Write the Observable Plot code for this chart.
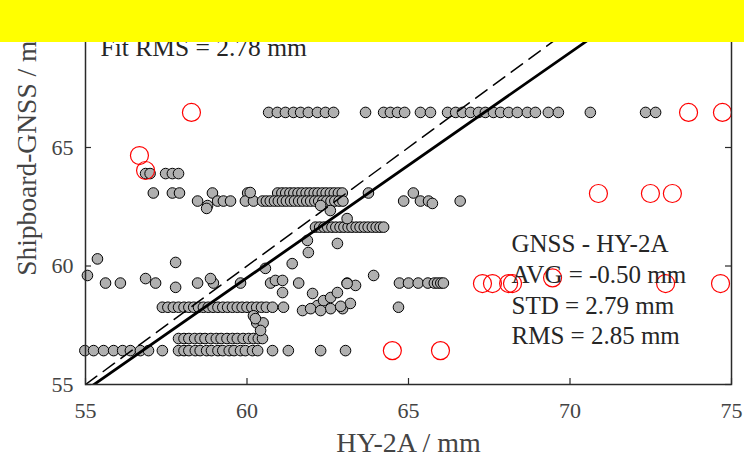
<!DOCTYPE html>
<html><head><meta charset="utf-8">
<script src="https://cdn.jsdelivr.net/npm/d3@7"></script>
<script src="https://cdn.jsdelivr.net/npm/@observablehq/plot@0.6"></script>
<style>
html,body{margin:0;padding:0;background:#fff;}
#wrap{position:relative;width:744px;height:457px;overflow:hidden;background:#fff;}
#chart{position:absolute;left:0;top:-100px;}
#banner{position:absolute;left:0;top:0;width:744px;height:42px;background:#ffff00;z-index:2;}
</style></head>
<body><div id="wrap"><div id="chart"></div><div id="banner"></div></div>
<script>
// ---- data (HY-2A vs Shipboard-GNSS, mm) ----
const xTicks = [55, 60, 65, 70, 75];
const yTicks = [55, 60, 65, 70, 75];

// GNSS values that repeat along horizontal rows, with the HY-2A values on each row
const levelGNSS = [66.48, 63.9, 63.08, 62.74, 61.64, 59.28, 58.26, 56.94, 56.43];
const levelHY = [
  [60.67, 60.94, 61.19, 61.44, 61.66, 61.90, 62.18, 62.43, 62.68, 63.67, 64.23, 64.44, 64.66, 64.88, 65.37, 65.68, 66.21, 66.46, 66.67, 66.92, 67.17, 67.38, 67.63, 67.85, 68.10, 68.37, 68.68, 68.93, 69.33, 69.64, 70.63, 72.34, 72.65],
  [56.86, 57.0, 57.48, 57.69, 57.88],
  [57.10, 57.69, 57.91, 58.93, 60.02, 60.95, 61.08, 61.2, 61.33, 61.45, 61.58, 61.7, 61.83, 61.95, 62.08, 62.2, 62.33, 62.45, 62.58, 62.7, 62.83, 62.95, 63.76, 65.15],
  [58.47, 59.09, 59.27, 59.49, 59.95, 60.2, 60.48, 60.6, 60.72, 60.85, 60.97, 61.1, 61.22, 61.35, 61.47, 61.6, 61.72, 61.85, 61.97, 62.1, 62.22, 62.35, 62.47, 62.6, 62.72, 62.85, 62.97, 64.85, 65.37, 65.62, 66.6],
  [62.12, 62.25, 62.38, 62.5, 62.63, 62.75, 62.88, 63.0, 63.13, 63.25, 63.38, 63.5, 63.63, 63.75, 63.88, 64.0, 64.12, 64.23],
  [55.62, 56.08, 57.17, 58.47, 58.96, 59.8, 60.73, 61.6, 63.1, 64.72, 65.0, 65.3, 65.6, 65.8, 65.9, 66.0, 66.08],
  [57.38, 57.55, 57.72, 57.88, 58.05, 58.2, 58.35, 58.5, 58.65, 58.8, 58.95, 59.1, 59.25, 59.4, 59.55, 59.7, 59.85, 60.0, 60.15, 60.3, 60.45, 60.6, 60.79, 61.13, 64.69],
  [57.88, 58.05, 58.2, 58.38, 58.55, 58.7, 58.88, 59.05, 59.2, 59.38, 59.55, 59.7, 59.88, 60.05, 60.2, 60.35, 60.48],
  [54.98, 55.25, 55.56, 55.87, 56.15, 56.39, 56.7, 56.95, 57.38, 57.88, 58.05, 58.2, 58.4, 58.55, 58.75, 58.9, 59.1, 59.25, 59.45, 59.6, 59.8, 59.95, 60.17, 60.33, 60.79, 61.28, 62.28, 63.05]
];

// scattered points (not on a row)
const scatterHY   = [55.37, 57.79, 58.78, 58.75, 60.1, 62.28, 62.58, 65.74, 63.1, 61.87, 61.9, 62.8, 61.4, 60.57, 55.06, 56.86, 57.79, 58.87, 60.88, 61.1, 63.36, 61.1, 63.92, 60.2, 60.3, 60.5, 60.42, 60.26, 61.72, 62.03, 62.18, 62.37, 62.59, 62.8, 62.96, 63.1, 63.2, 61.97, 62.59, 62.28, 62.9];
const scatterGNSS = [60.3, 60.15, 62.55, 62.43, 63.1, 62.55, 62.34, 62.64, 62.0, 61.08, 60.57, 60.95, 60.1, 59.9, 59.6, 59.47, 59.1, 59.47, 59.39, 59.39, 59.18, 58.88, 59.6, 57.9, 57.6, 57.6, 57.28, 57.78, 58.12, 58.84, 58.33, 58.54, 58.67, 58.88, 58.2, 59.26, 58.42, 58.2, 58.2, 58.12, 58.3];

// outliers (red circles)
const outlierHY   = [58.28, 73.67, 74.72, 56.67, 56.86, 70.88, 72.49, 73.17, 67.29, 67.6, 68.1, 68.22, 69.46, 72.96, 74.66, 64.5, 65.99];
const outlierGNSS = [66.48, 66.48, 66.48, 64.66, 64.03, 63.06, 63.06, 63.06, 59.26, 59.26, 59.26, 59.26, 59.5, 59.26, 59.26, 56.43, 56.43];

// linear fit and 1:1 line
const fitSlope = 0.95, fitIntercept = 2.5;
const lineRange = [55, 75];

const statsLines = ["GNSS - HY-2A", "AVG = -0.50 mm", "STD = 2.79 mm", "RMS = 2.85 mm"];
const fitText = "Fit RMS = 2.78 mm";
const xLabel = "HY-2A / mm";
const yLabel = "Shipboard-GNSS / mm";

// ---- build tables ----
const gray = [];
levelGNSS.forEach((g, i) => levelHY[i].forEach(h => gray.push({hy: h, gnss: g})));
scatterHY.forEach((h, i) => gray.push({hy: h, gnss: scatterGNSS[i]}));
const red = outlierHY.map((h, i) => ({hy: h, gnss: outlierGNSS[i]}));
const fit = lineRange.map(x => ({hy: x, gnss: fitSlope * x + fitIntercept}));
const oneToOne = lineRange.map(x => ({hy: x, gnss: x}));

const W = 744, mL = 85, mR = 13, mT = 10, mB = 73, innerH = 474;
const H = mT + innerH + mB;
const innerW = W - mL - mR;
const font = "'Liberation Serif', 'Times New Roman', serif";
const axisCol = "#2a2a2a";
const tk = 6;

const chart = Plot.plot({
  width: W, height: H,
  marginLeft: mL, marginRight: mR, marginTop: mT, marginBottom: mB,
  style: {fontFamily: font, fontSize: "22px", color: "#444", background: "#fff"},
  x: {domain: [55, 75], ticks: xTicks, tickSize: 0, tickPadding: 18, label: null},
  y: {domain: [55, 75], ticks: yTicks, tickSize: 0, tickPadding: 12, label: null},
  marks: [
    Plot.dot(gray, {x: "hy", y: "gnss", r: 5.3, fill: "#b0b0b0", stroke: "#000", strokeWidth: 1}),
    Plot.dot(red, {x: "hy", y: "gnss", r: 9, fill: "none", stroke: "#ff0000", strokeWidth: 1.2}),
    Plot.line(oneToOne, {x: "hy", y: "gnss", stroke: "#000", strokeWidth: 1.5, strokeDasharray: "14,8", clip: true}),
    Plot.line(fit, {x: "hy", y: "gnss", stroke: "#000", strokeWidth: 2.8, clip: true}),
    Plot.ruleX(xTicks, {x: d => d, insetTop: innerH - tk, stroke: axisCol, strokeWidth: 1.2}),
    Plot.ruleX(xTicks, {x: d => d, insetBottom: innerH - tk, stroke: axisCol, strokeWidth: 1.2}),
    Plot.ruleY(yTicks, {y: d => d, insetRight: innerW - tk, stroke: axisCol, strokeWidth: 1.2}),
    Plot.ruleY(yTicks, {y: d => d, insetLeft: innerW - tk, stroke: axisCol, strokeWidth: 1.2}),
    Plot.frame({stroke: axisCol, strokeWidth: 1.5}),
    Plot.text([statsLines.join("\n")], {text: d => d, frameAnchor: "bottom-left", dx: 426, dy: -96,
      textAnchor: "start", lineAnchor: "middle", lineHeight: 1.23, fontSize: 25, fill: "#262626"}),
    Plot.text([fitText], {text: d => d, frameAnchor: "bottom-left", dx: 15, dy: -337,
      textAnchor: "start", lineAnchor: "middle", fontSize: 25.5, fill: "#262626"}),
    Plot.text([xLabel], {text: d => d, frameAnchor: "bottom", dy: 59, textAnchor: "middle", lineAnchor: "middle", fontSize: 28, fill: "#444"}),
    Plot.text([yLabel], {text: d => d, frameAnchor: "left", dx: -58, rotate: -90, textAnchor: "middle", lineAnchor: "middle", fontSize: 27.5, fill: "#444"})
  ]
});
document.getElementById("chart").appendChild(chart);
</script></body></html>
